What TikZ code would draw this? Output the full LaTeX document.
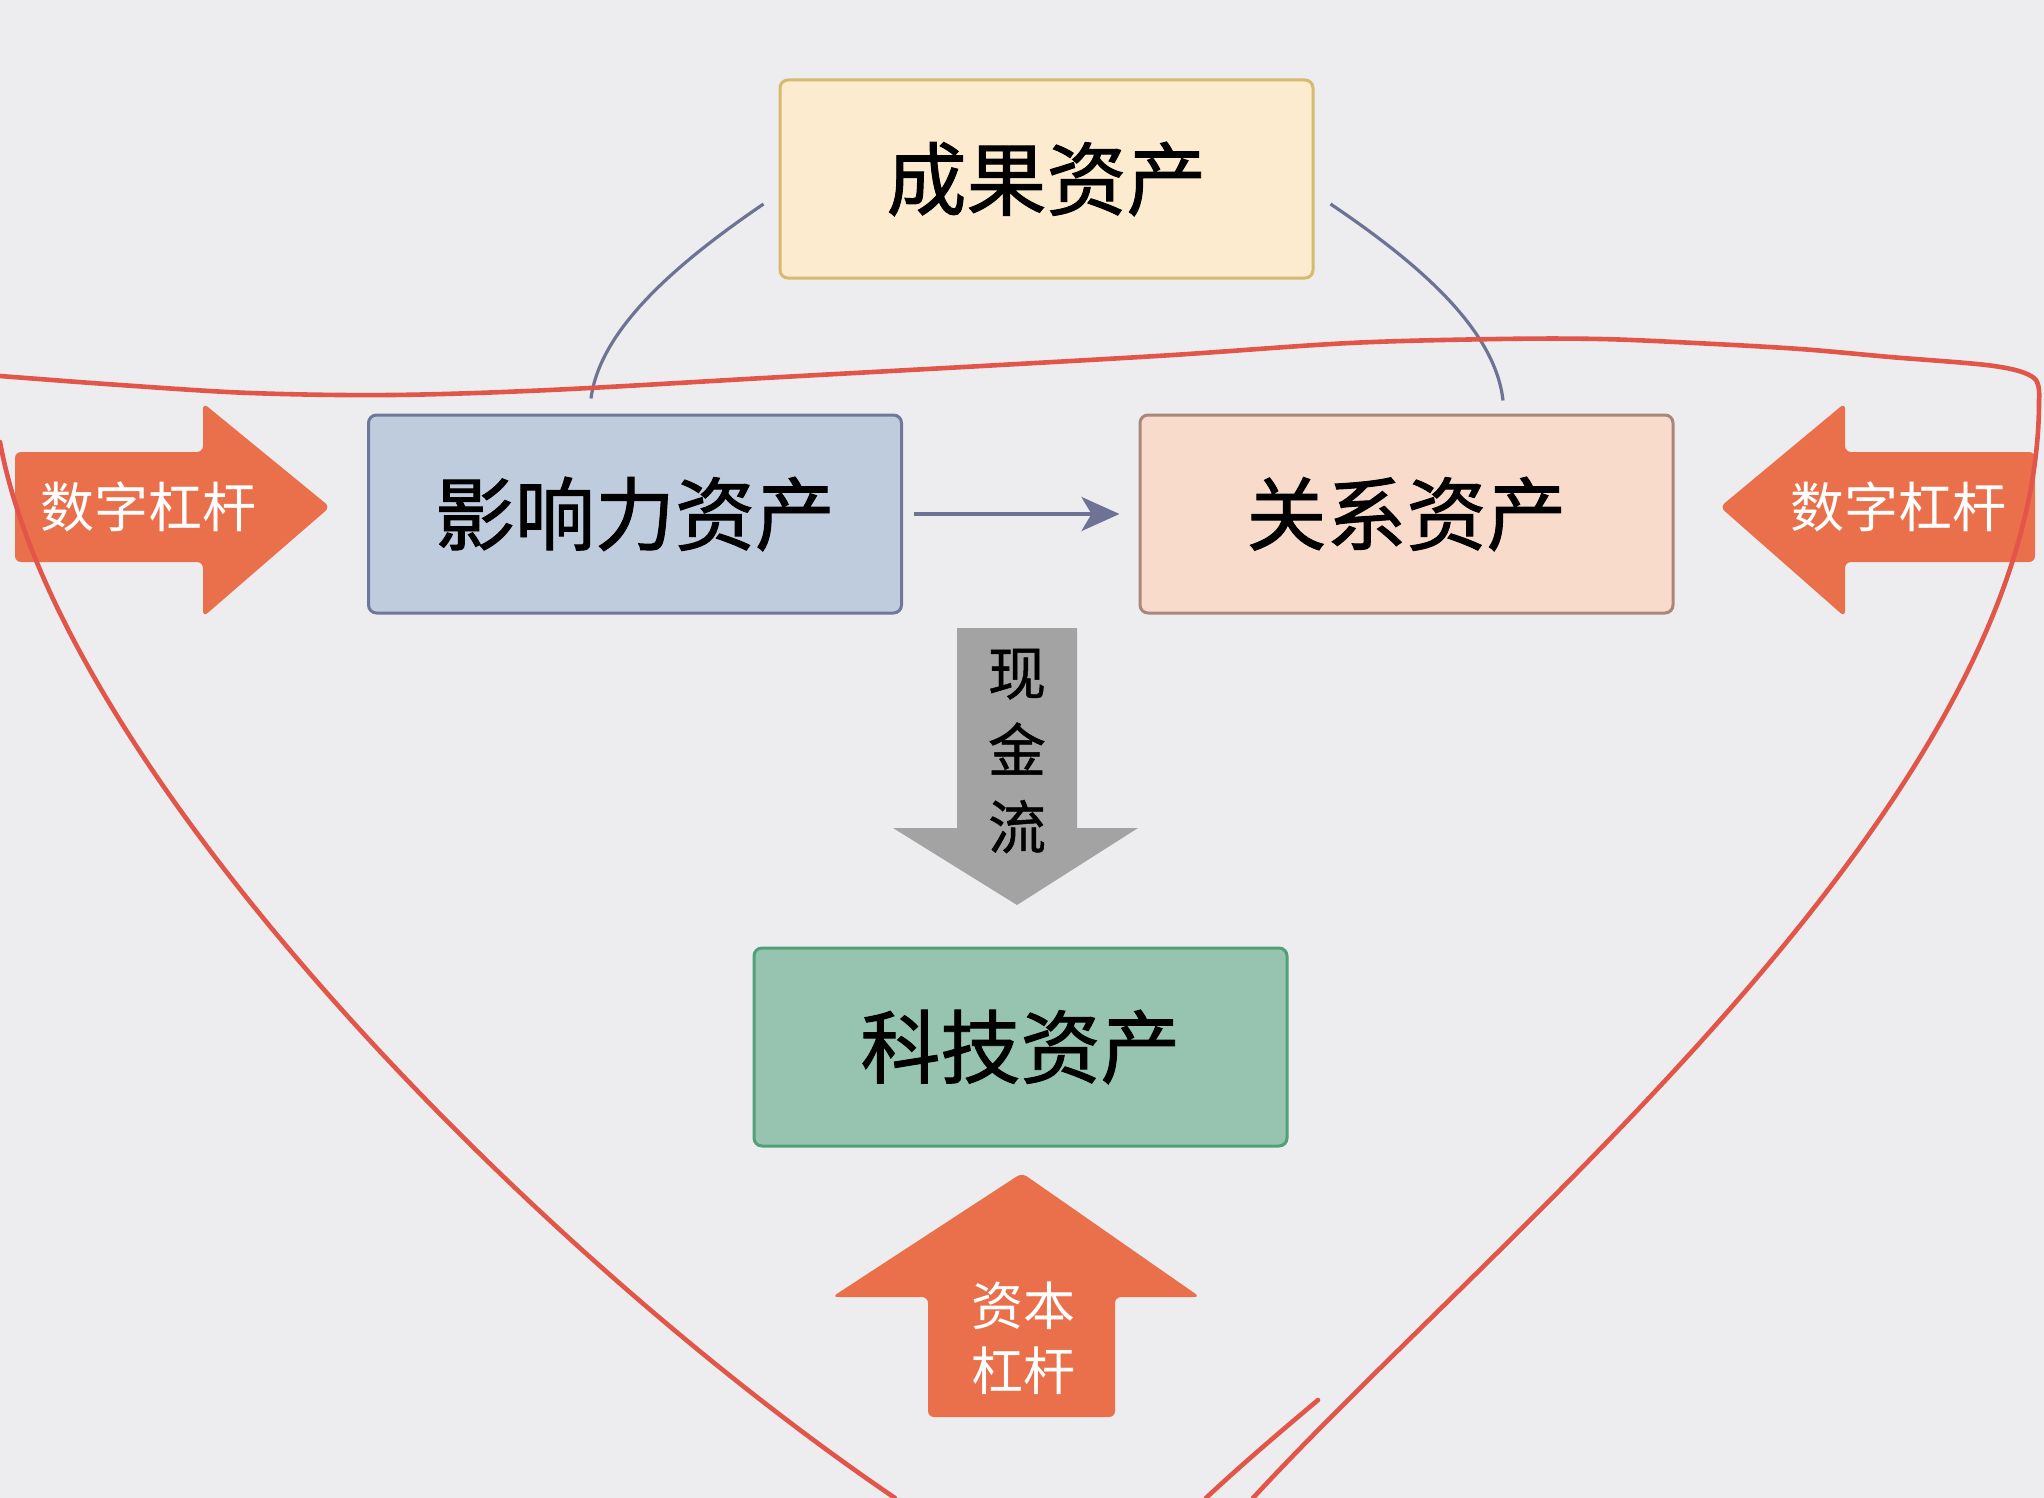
\documentclass[tikz,border=0pt]{standalone}
\usepackage{fontspec}
\setmainfont{Noto Sans CJK SC}
\newfontfamily\boxfont{Noto Sans CJK SC}[FakeBold=1.2]
\newfontfamily\midfont{Noto Sans CJK SC}[FakeBold=0.8]
\usetikzlibrary{arrows.meta,calc}
\definecolor{bgc}{RGB}{237,236,239}
\definecolor{cgfill}{RGB}{252,235,206}
\definecolor{cgdraw}{RGB}{214,186,110}
\definecolor{yxfill}{RGB}{191,204,221}
\definecolor{yxdraw}{RGB}{110,120,155}
\definecolor{gxfill}{RGB}{249,219,204}
\definecolor{gxdraw}{RGB}{170,135,125}
\definecolor{kjfill}{RGB}{151,196,176}
\definecolor{kjdraw}{RGB}{80,160,120}
\definecolor{orangec}{RGB}{234,112,75}
\definecolor{grayarr}{RGB}{163,163,163}
\definecolor{linkc}{RGB}{110,115,150}
\definecolor{redc}{RGB}{226,86,74}
\begin{document}
\begin{tikzpicture}[x=0.5pt,y=-0.5pt,
  assetbox/.style={draw, line width=1.5pt, rounded corners=4pt, minimum width=266.5pt,
    minimum height=99pt, inner sep=0pt, font=\boxfont\fontsize{40pt}{48pt}\selectfont},
  link/.style={draw=linkc, line width=1.6pt},
  levershape/.style={fill=orangec, rounded corners=3pt},
  levertext/.style={text=white, inner sep=0pt, align=center},
  redline/.style={draw=redc, line width=2.3pt, line cap=round, line join=round}]
\fill[bgc] (0,0) rectangle (2044,1498);
\useasboundingbox (0,0) rectangle (2044,1498);

% boxes
\node[assetbox, fill=cgfill, draw=cgdraw] (cg) at (1046.5,179) {成果资产};
\node[assetbox, fill=yxfill, draw=yxdraw] (yx) at (635,514) {影响力资产};
\node[assetbox, fill=gxfill, draw=gxdraw] (gx) at (1406.5,514) {关系资产};
\node[assetbox, fill=kjfill, draw=kjdraw] (kj) at (1020.5,1047) {科技资产};

% connectors
\draw[link] ($(cg.west)+(-15,25)$) .. controls +(-85,58) and +(9,-70) .. ($(yx.north)+(-44,-15)$);
\draw[link] ($(cg.east)+(16,25)$) .. controls +(86,58) and +(-8,-72) .. ($(gx.north)+(96.5,-13)$);
\draw[link, line width=2pt, -{Stealth[length=19pt,width=17pt,inset=5pt]}] ($(yx.east)+(11,0)$) -- ($(gx.west)+(-19,0)$);

% cash flow arrow
\fill[grayarr] (957,628) -- (1077,628) -- (1077,828) -- (1138,828) -- (1017,905) -- (893,828) -- (957,828) -- cycle;
\node[inner sep=0pt, align=center, font=\midfont\fontsize{29pt}{38.5pt}\selectfont] (xjl) at (1017,751) {现\\金\\流};

% lever arrows
\fill[levershape] (15,452) -- (203,452) -- (203,403) -- (330,507) -- (203,617) -- (203,562) -- (15,562) -- cycle;
\node[levertext, font=\fontsize{27pt}{32pt}\selectfont] (szl) at (148,507) {数字杠杆};
\fill[levershape] (2035,452) -- (1845,452) -- (1845,403) -- (1720,507) -- (1845,617) -- (1845,562) -- (2035,562) -- cycle;
\node[levertext, font=\fontsize{27pt}{32pt}\selectfont] (szr) at (1898,507) {数字杠杆};
\fill[levershape] (1022,1173) -- (1200,1297) -- (1115,1297) -- (1115,1417) -- (928,1417) -- (928,1297) -- (832,1297) -- cycle;
\node[levertext, font=\fontsize{26pt}{32.5pt}\selectfont] (zbg) at (1023,1338) {资本\\杠杆};

% hand-drawn red outline
\draw[redline] plot[smooth, tension=0.55] coordinates {(0,376) (120,385) (250,393) (391,395) (550,390) (782,377) (1000,365) (1173,355) (1350,343) (1499,339) (1600,339) (1695,343) (1800,349) (1890,357) (1994,366) (2034,378) (2039,400)};
\draw[redline] (2039,400) .. controls (2040,800) and (1500,1230) .. (1253,1498);
\draw[redline] (0,442) .. controls (60,770) and (530,1250) .. (895,1498);
\draw[redline] (1318,1400) .. controls (1280,1432) and (1240,1466) .. (1206,1498);
\end{tikzpicture}
\end{document}
